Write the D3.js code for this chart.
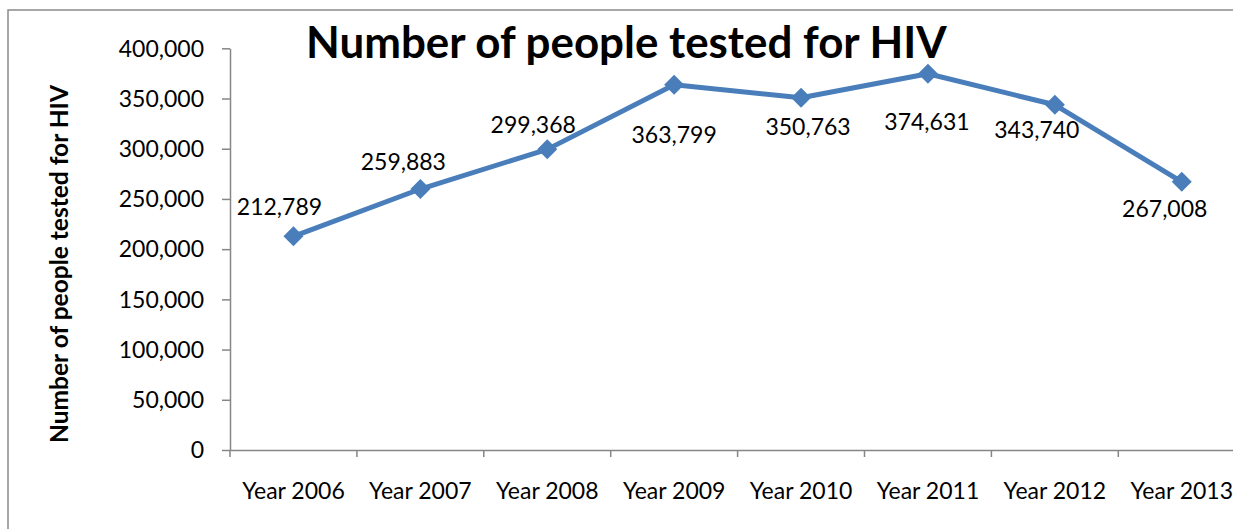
<!DOCTYPE html>
<html>
<head>
<meta charset="utf-8">
<script src="https://cdn.jsdelivr.net/npm/d3@7"></script>
<style>
  html, body { margin: 0; padding: 0; background: #fff; }
  svg { display: block; }
  text { font-family: Lato, "Open Sans", sans-serif; fill: #000; }
</style>
</head>
<body>
<svg id="chart" width="1233" height="529"></svg>
<script>
// ---- data ----
const categories = ["Year 2006", "Year 2007", "Year 2008", "Year 2009", "Year 2010", "Year 2011", "Year 2012", "Year 2013"];
const values = [212789, 259883, 299368, 363799, 350763, 374631, 343740, 267008];
const yTicks = [0, 50000, 100000, 150000, 200000, 250000, 300000, 350000, 400000];
const chartTitle = "Number of people tested for HIV";
const yTitle = "Number of people tested for HIV";

// ---- layout (label offsets from point, px: [dx, baseline dy]) ----
const labelOffsets = [[-14, -21], [-17, -19], [-14, -16], [0, 58], [7, 37], [-1, 56], [-18, 33], [-17, 35]];

(function () {
const svg = d3.select("#chart");
const plotL = 230, plotR = 1245.2, plotT = 48.3, plotB = 450;
const blue = "#4a7ebb";
const axisGray = "#868686";

// outer border
svg.append("rect")
  .attr("x", 8).attr("y", 10).attr("width", 1260).attr("height", 560)
  .attr("fill", "#fff").attr("stroke", "#8a8a8a").attr("stroke-width", 1.5);

const x = d3.scaleBand().domain(categories).range([plotL, plotR]).padding(0);
const y = d3.scaleLinear().domain([0, 400000]).range([plotB, plotT]);
const cx = d => x(d) + x.bandwidth() / 2;

// y axis
const yAxis = svg.append("g").attr("transform", `translate(${plotL},0)`)
  .call(d3.axisLeft(y).tickValues(yTicks).tickSize(8).tickSizeOuter(0).tickPadding(18).tickFormat(d3.format(",")));
yAxis.select(".domain").attr("stroke", axisGray).attr("stroke-width", 1.5);
yAxis.selectAll(".tick line").attr("stroke", axisGray).attr("stroke-width", 1.5);
yAxis.selectAll(".tick text").attr("font-size", 23).attr("font-family", "Lato").attr("fill", "#000").attr("dy", "0.34em");

// x axis
const xAxis = svg.append("g").attr("transform", `translate(0,${plotB})`)
  .call(d3.axisBottom(x).tickSize(0).tickSizeOuter(0));
xAxis.select(".domain").attr("stroke", axisGray).attr("stroke-width", 1.5);
xAxis.selectAll(".tick text").attr("font-size", 23).attr("font-family", "Lato").attr("fill", "#000")
  .attr("y", 49).attr("dy", 0);
const boundaries = categories.map(c => x(c)).concat([x.range()[1]]);
xAxis.selectAll("line.bt").data(boundaries).join("line").attr("class", "bt")
  .attr("x1", d => d).attr("x2", d => d).attr("y1", 0).attr("y2", 7)
  .attr("stroke", axisGray).attr("stroke-width", 1.5);

// line
const line = d3.line().x((d, i) => cx(categories[i])).y(d => y(d));
svg.append("path").datum(values)
  .attr("d", line).attr("fill", "none").attr("stroke", blue)
  .attr("stroke-width", 5).attr("stroke-linejoin", "round");

// markers (square rotated 45deg)
const sym = d3.symbol(d3.symbolSquare, 200);
svg.selectAll("path.mk").data(values).join("path").attr("class", "mk")
  .attr("d", sym)
  .attr("transform", (d, i) => `translate(${cx(categories[i])},${y(d)}) rotate(45)`)
  .attr("fill", blue);

// data labels
const fmt = d3.format(",");
svg.selectAll("text.dl").data(values).join("text").attr("class", "dl")
  .attr("x", (d, i) => cx(categories[i]) + labelOffsets[i][0])
  .attr("y", (d, i) => y(d) + labelOffsets[i][1])
  .attr("text-anchor", "middle").attr("font-size", 23)
  .text(d => fmt(d));

// title
function fitWidth(sel, target) {
  const base = 40;
  sel.attr("font-size", base);
  const w = sel.node().getComputedTextLength();
  sel.attr("font-size", base * target / w);
}
const t = svg.append("text").attr("x", 306).attr("y", 58)
  .attr("font-weight", "bold").text(chartTitle);
fitWidth(t, 641);

// y title
const yt = svg.append("text")
  .attr("transform", "translate(68,264) rotate(-90)")
  .attr("text-anchor", "middle").attr("font-weight", "bold").text(yTitle);
fitWidth(yt, 358);
})();
</script>
</body>
</html>
